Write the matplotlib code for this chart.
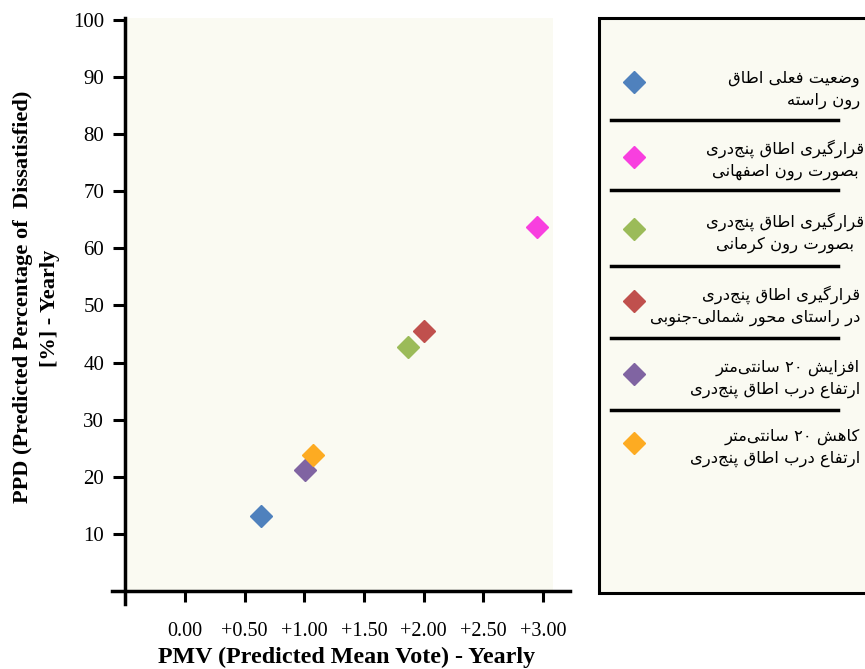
import matplotlib
matplotlib.use("Agg")
import matplotlib.pyplot as plt
from matplotlib.lines import Line2D
from matplotlib.patches import Rectangle

# ---------------- data ----------------
pmv = [0.64, 2.95, 1.87, 2.00, 1.01, 1.07]
ppd = [13.1, 63.8, 42.7, 45.6, 21.2, 23.9]
colors = ["#4F81BD", "#F83FDF", "#9BBB59", "#C0504D", "#8064A2", "#FDAB22"]
labels = [
    "وضعیت فعلی اطاق\nرون راسته",
    "قرارگیری اطاق پنج\u200cدری\nبصورت رون اصفهانی",
    "قرارگیری اطاق پنج\u200cدری\nبصورت رون کرمانی",
    "قرارگیری اطاق پنج\u200cدری\nدر راستای محور شمالی-جنوبی",
    "افزایش ۲۰ سانتی\u200cمتر\nارتفاع درب اطاق پنج\u200cدری",
    "کاهش ۲۰ سانتی\u200cمتر\nارتفاع درب اطاق پنج\u200cدری",
]
label_align = ["right", "center", "center", "right", "right", "right"]
xticks = [0.0, 0.5, 1.0, 1.5, 2.0, 2.5, 3.0]
xticklabels = ["0.00", "+0.50", "+1.00", "+1.50", "+2.00", "+2.50", "+3.00"]
yticks = [10, 20, 30, 40, 50, 60, 70, 80, 90, 100]

# ---------------- simple Persian shaping ----------------
FORMS = {  # isolated, final, initial, medial
    "ا": (0xFE8D, 0xFE8E, None, None), "آ": (0xFE81, 0xFE82, None, None),
    "ب": (0xFE8F, 0xFE90, 0xFE91, 0xFE92), "پ": (0xFB56, 0xFB57, 0xFB58, 0xFB59),
    "ت": (0xFE95, 0xFE96, 0xFE97, 0xFE98), "ث": (0xFE99, 0xFE9A, 0xFE9B, 0xFE9C),
    "ج": (0xFE9D, 0xFE9E, 0xFE9F, 0xFEA0), "چ": (0xFB7A, 0xFB7B, 0xFB7C, 0xFB7D),
    "ح": (0xFEA1, 0xFEA2, 0xFEA3, 0xFEA4), "خ": (0xFEA5, 0xFEA6, 0xFEA7, 0xFEA8),
    "د": (0xFEA9, 0xFEAA, None, None), "ذ": (0xFEAB, 0xFEAC, None, None),
    "ر": (0xFEAD, 0xFEAE, None, None), "ز": (0xFEAF, 0xFEB0, None, None),
    "ژ": (0xFB8A, 0xFB8B, None, None),
    "س": (0xFEB1, 0xFEB2, 0xFEB3, 0xFEB4), "ش": (0xFEB5, 0xFEB6, 0xFEB7, 0xFEB8),
    "ص": (0xFEB9, 0xFEBA, 0xFEBB, 0xFEBC), "ض": (0xFEBD, 0xFEBE, 0xFEBF, 0xFEC0),
    "ط": (0xFEC1, 0xFEC2, 0xFEC3, 0xFEC4), "ظ": (0xFEC5, 0xFEC6, 0xFEC7, 0xFEC8),
    "ع": (0xFEC9, 0xFECA, 0xFECB, 0xFECC), "غ": (0xFECD, 0xFECE, 0xFECF, 0xFED0),
    "ف": (0xFED1, 0xFED2, 0xFED3, 0xFED4), "ق": (0xFED5, 0xFED6, 0xFED7, 0xFED8),
    "ک": (0xFB8E, 0xFB8F, 0xFB90, 0xFB91), "گ": (0xFB92, 0xFB93, 0xFB94, 0xFB95),
    "ل": (0xFEDD, 0xFEDE, 0xFEDF, 0xFEE0), "م": (0xFEE1, 0xFEE2, 0xFEE3, 0xFEE4),
    "ن": (0xFEE5, 0xFEE6, 0xFEE7, 0xFEE8), "ه": (0xFEE9, 0xFEEA, 0xFEEB, 0xFEEC),
    "و": (0xFEED, 0xFEEE, None, None), "ی": (0xFBFC, 0xFBFD, 0xFBFE, 0xFBFF),
}


def dual(c):
    return c in FORMS and FORMS[c][2] is not None


def joins(c):
    return c in FORMS


def shape_line(s):
    out = []
    n = len(s)
    for i, c in enumerate(s):
        if c not in FORMS:
            out.append(c)
            continue
        prev = s[i - 1] if i > 0 else ""
        nxt = s[i + 1] if i + 1 < n else ""
        cp = dual(prev)
        cn = dual(c) and joins(nxt)
        iso, fin, ini, med = FORMS[c]
        if cp and cn:
            out.append(chr(med))
        elif cp:
            out.append(chr(fin))
        elif cn:
            out.append(chr(ini))
        else:
            out.append(chr(iso))
    shaped = "".join(out).replace("\u200c", "")
    # visual order: reverse, keeping digit runs left-to-right
    runs, cur, curdig = [], "", None
    for c in shaped:
        d = c.isdigit()
        if curdig is None or d == curdig:
            cur += c
        else:
            runs.append((cur, curdig))
            cur = c
        curdig = d
    if cur:
        runs.append((cur, curdig))
    vis = ""
    for r, d in reversed(runs):
        vis += r if d else r[::-1]
    return vis


def shape(s):
    return "\n".join(shape_line(l) for l in s.split("\n"))


# ---------------- figure ----------------
W, H = 865, 669
fig = plt.figure(figsize=(W / 100, H / 100), dpi=100)
fig.patch.set_facecolor("white")
BG = "#FAFAF2"
serif = ["Liberation Serif", "DejaVu Serif"]


def fx(x):
    return x / W


def fy(y):
    return 1 - y / H


L, R, T, B = 125, 553, 18, 591
ax = fig.add_axes([fx(L), fy(B), fx(R) - fx(L), fy(T) - fy(B)])
ax.set_facecolor(BG)
ax.set_xlim(-0.503, 3.085)
ax.set_ylim(0, 100.35)
for sp in ax.spines.values():
    sp.set_visible(False)

for x, y, c in zip(pmv, ppd, colors):
    ax.plot([x], [y], marker="D", ms=11, color=c, linestyle="none", zorder=3)

ax.set_xticks(xticks)
ax.set_xticklabels(xticklabels, fontfamily=serif, fontsize=14.5)
ax.set_yticks(yticks)
ax.set_yticklabels([str(v) for v in yticks], fontfamily=serif, fontsize=15)
ax.tick_params(axis="x", direction="out", length=8, width=2.2, pad=14, colors="black")
ax.tick_params(axis="y", direction="out", length=9, width=2.2, pad=6, colors="black")

# axis lines (extended past the origin as in the reference)
fig.add_artist(Line2D([fx(L), fx(L)], [fy(604), fy(T)], color="black", lw=2.5,
                      transform=fig.transFigure))
fig.add_artist(Line2D([fx(112), fx(570)], [fy(B), fy(B)], color="black", lw=2.5,
                      transform=fig.transFigure))

# axis titles
fig.text(fx(347), fy(657), "PMV (Predicted Mean Vote) - Yearly", ha="center", va="center",
         fontfamily=serif, fontweight="bold", fontsize=17.3)
fig.text(fx(23), fy(297), "PPD (Predicted Percentage of  Dissatisfied)", ha="center",
         va="center", rotation=90, fontfamily=serif, fontweight="bold", fontsize=16.1)
fig.text(fx(50), fy(308), "[%] - Yearly", ha="center", va="center", rotation=90,
         fontfamily=serif, fontweight="bold", fontsize=16.1)

# ---------------- legend box ----------------
fig.add_artist(Rectangle((fx(599), fy(593)), fx(880) - fx(599), fy(18) - fy(593),
                         facecolor=BG, edgecolor="black", lw=2.2,
                         transform=fig.transFigure, clip_on=False))
marker_y = [82, 157, 229, 301, 374, 443]
sep_y = [120, 190, 266, 338, 410]
text_dy = [8, 3, 4, 5, 5, 5]
for my, dy, c, lab, al in zip(marker_y, text_dy, colors, labels, label_align):
    fig.add_artist(Line2D([fx(634)], [fy(my)], marker="D", ms=11, color=c,
                          linestyle="none", transform=fig.transFigure))
    tx = 860 if al == "right" else 785
    fig.text(fx(tx), fy(my + dy), shape(lab), ha=al, va="center", multialignment=al,
             fontfamily="DejaVu Sans", fontsize=11.8, linespacing=1.45)
for sy in sep_y:
    fig.add_artist(Line2D([fx(611), fx(838)], [fy(sy), fy(sy)], color="black", lw=2.5,
                          transform=fig.transFigure))

fig.savefig("out.png", dpi=100, facecolor="white")
